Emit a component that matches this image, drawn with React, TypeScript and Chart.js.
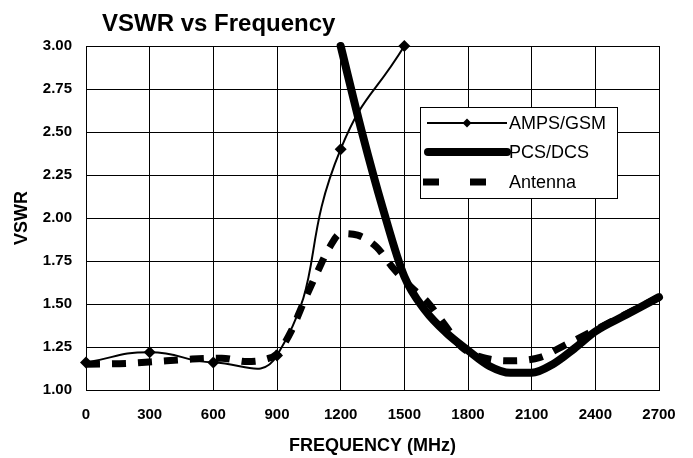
import React, { useEffect, useRef } from 'react';
import { Chart, registerables } from 'chart.js';

Chart.register(...registerables);

const chartTitle = 'VSWR vs Frequency';
const xTitle = 'FREQUENCY (MHz)';
const yTitle = 'VSWR';
const seriesLabels = ['AMPS/GSM', 'PCS/DCS', 'Antenna'];

const xTicks = [0, 300, 600, 900, 1200, 1500, 1800, 2100, 2400, 2700];

const ampsFreq = [0, 300, 600, 900, 1200, 1500];
const ampsVswr = [1.16, 1.22, 1.16, 1.2, 2.4, 3.0];

const pcsFreq = [1200, 1300, 1400, 1500, 1600, 1700, 1800, 1900, 2000, 2100, 2200, 2300, 2400, 2550, 2700];
const pcsVswr = [3.0, 2.5, 2.05, 1.66, 1.46, 1.33, 1.23, 1.14, 1.1, 1.1, 1.15, 1.24, 1.34, 1.44, 1.54];

const antFreq = [0, 200, 320, 500, 640, 760, 850, 900, 970, 1022, 1088, 1148, 1200, 1280, 1370, 1440, 1530, 1610, 1690, 1770, 1900, 2010, 2140, 2255, 2400, 2700];
const antVswr = [1.15, 1.155, 1.165, 1.18, 1.185, 1.165, 1.18, 1.21, 1.35, 1.5, 1.68, 1.83, 1.91, 1.9, 1.83, 1.72, 1.6, 1.51, 1.38, 1.25, 1.18, 1.17, 1.19, 1.26, 1.35, 1.54];

const FONT = '"Liberation Sans", Arial, sans-serif';

const toPts = (xs: number[], ys: number[]) => xs.map((x, i) => ({ x, y: ys[i] }));

const titlePlugin = {
  id: 'customTitle',
  afterDraw(chart: any) {
    const ctx = chart.ctx;
    ctx.save();
    ctx.font = `bold 24px ${FONT}`;
    ctx.fillStyle = '#000';
    ctx.textAlign = 'left';
    ctx.textBaseline = 'alphabetic';
    ctx.fillText(chartTitle, 102, 31);
    ctx.restore();
  },
};

const legendPlugin = {
  id: 'customLegend',
  afterDraw(chart: any) {
    const ctx = chart.ctx;
    const bx = 420, by = 107, bw = 197, bh = 91;
    ctx.save();
    ctx.fillStyle = '#fff';
    ctx.fillRect(bx, by, bw, bh);
    ctx.strokeStyle = '#000';
    ctx.lineWidth = 1;
    ctx.strokeRect(bx + 0.5, by + 0.5, bw, bh);
    const rows = [123, 152, 182];
    chart.data.datasets.forEach((ds: any, i: number) => {
      const y = rows[i];
      ctx.save();
      ctx.strokeStyle = '#000';
      ctx.lineWidth = ds.borderWidth;
      ctx.lineCap = i === 1 ? 'round' : 'butt';
      if (i === 2) {
        ctx.setLineDash([16, 31]);
        ctx.beginPath();
        ctx.moveTo(423, y);
        ctx.lineTo(487, y);
        ctx.stroke();
      } else if (i === 1) {
        ctx.beginPath();
        ctx.moveTo(428, y);
        ctx.lineTo(507, y);
        ctx.stroke();
      } else {
        ctx.beginPath();
        ctx.moveTo(427, y);
        ctx.lineTo(507, y);
        ctx.stroke();
        ctx.fillStyle = '#000';
        ctx.beginPath();
        ctx.moveTo(467, y - 4.5);
        ctx.lineTo(471.5, y);
        ctx.lineTo(467, y + 4.5);
        ctx.lineTo(462.5, y);
        ctx.closePath();
        ctx.fill();
      }
      ctx.restore();
      ctx.fillStyle = '#000';
      ctx.font = `18px ${FONT}`;
      ctx.textAlign = 'left';
      ctx.textBaseline = 'middle';
      ctx.fillText(ds.label, 509, y + 1);
    });
    ctx.restore();
  },
};

export default function App() {
  const ref = useRef<HTMLCanvasElement | null>(null);

  useEffect(() => {
    if (!ref.current) return;
    const chart = new Chart(ref.current, {
      type: 'line',
      data: {
        datasets: [
          {
            label: seriesLabels[0],
            data: toPts(ampsFreq, ampsVswr),
            borderColor: '#000',
            backgroundColor: '#000',
            borderWidth: 2,
            tension: 0.5,
            pointStyle: 'rectRot',
            pointRadius: 6,
            pointBorderWidth: 0,
            pointBackgroundColor: '#000',
            clip: false,
          },
          {
            label: seriesLabels[1],
            data: toPts(pcsFreq, pcsVswr),
            borderColor: '#000',
            borderWidth: 8,
            borderCapStyle: 'round',
            borderJoinStyle: 'round',
            cubicInterpolationMode: 'monotone',
            pointRadius: 0,
            clip: false,
          },
          {
            label: seriesLabels[2],
            data: toPts(antFreq, antVswr),
            borderColor: '#000',
            borderWidth: 7,
            borderDash: [14, 12],
            cubicInterpolationMode: 'monotone',
            pointRadius: 0,
          },
        ] as any,
      },
      options: {
        animation: false,
        responsive: true,
        maintainAspectRatio: false,
        layout: { padding: { top: 46, right: 34, left: 0, bottom: 0 } },
        plugins: {
          legend: { display: false },
          title: { display: false },
          tooltip: { enabled: false },
        },
        scales: {
          x: {
            type: 'linear',
            min: 0,
            max: 2700,
            afterBuildTicks: (s: any) => {
              s.ticks = xTicks.map((v) => ({ value: v }));
            },
            afterFit: (s: any) => {
              s.height = 68;
            },
            grid: { color: '#000', lineWidth: 1, drawTicks: false },
            border: { color: '#000', width: 1 },
            ticks: {
              color: '#000',
              font: { family: FONT, size: 15, weight: 'bold' },
              padding: 16,
              maxRotation: 0,
              autoSkip: false,
              callback: (v: any) => String(v),
            },
            title: {
              display: true,
              text: xTitle,
              color: '#000',
              font: { family: FONT, size: 18, weight: 'bold' },
              padding: { top: 0, bottom: 1 },
            },
          },
          y: {
            type: 'linear',
            min: 1,
            max: 3,
            afterFit: (s: any) => {
              s.width = 86;
            },
            grid: { color: '#000', lineWidth: 1, drawTicks: false },
            border: { color: '#000', width: 1 },
            ticks: {
              stepSize: 0.25,
              color: '#000',
              font: { family: FONT, size: 15, weight: 'bold' },
              padding: 14,
              callback: (v: any) => Number(v).toFixed(2),
            },
            title: {
              display: true,
              text: yTitle,
              color: '#000',
              font: { family: FONT, size: 18, weight: 'bold' },
              padding: { top: 11, bottom: 0 },
            },
          },
        },
      } as any,
      plugins: [titlePlugin, legendPlugin],
    });
    return () => chart.destroy();
  }, []);

  return (
    <div style={{ position: 'absolute', left: 0, top: 0, width: 693, height: 458, background: '#fff' }}>
      <canvas ref={ref} />
    </div>
  );
}
